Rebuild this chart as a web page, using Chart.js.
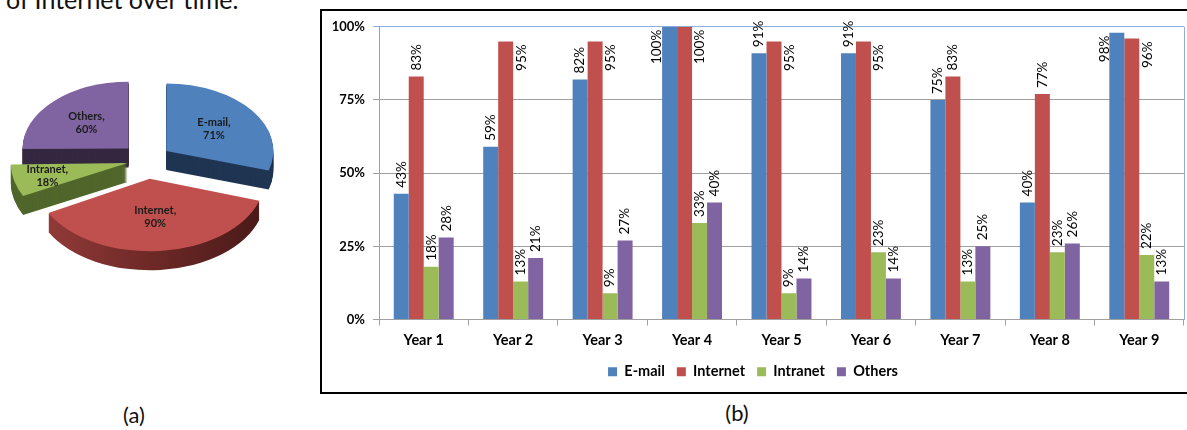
<!DOCTYPE html>
<html>
<head>
<meta charset="utf-8">
<script src="https://cdn.jsdelivr.net/npm/chart.js@4.4.1/dist/chart.umd.min.js"></script>
<style>
  html, body { margin: 0; padding: 0; background: #fff; }
  body { width: 1187px; height: 430px; position: relative; overflow: hidden; font-family: Lato, 'Open Sans', sans-serif; }
  .cut { position: absolute; left: 6px; top: -13px; font-size: 25px; line-height: 25px; color: #111; white-space: nowrap; }
  .cap { position: absolute; width: 60px; text-align: center; font-size: 22px; line-height: 22px; color: #111; }
  #pieBox { position: absolute; left: 0; top: 10px; width: 294px; height: 300px; }
  #barBox { position: absolute; left: 320px; top: 9px; width: 880px; height: 381px; border: 2px solid #000; }
  #barWrap { position: absolute; left: 0; top: 0; width: 865px; height: 381px; }
</style>
</head>
<body>
<div class="cut">of Internet over time.</div>
<div id="pieBox"><canvas id="pieChart"></canvas></div>
<div id="barBox"><div id="barWrap"><canvas id="barChart"></canvas></div></div>
<div class="cap" style="left:104px; top:404px;">(a)</div>
<div class="cap" style="left:707px; top:402px;">(b)</div>

<script>
// (a) overall share
const pieLabels = ['E-mail', 'Internet', 'Intranet', 'Others'];
const pieValues = [71, 90, 18, 60];

// (b) yearly share
const years = ['Year 1', 'Year 2', 'Year 3', 'Year 4', 'Year 5', 'Year 6', 'Year 7', 'Year 8', 'Year 9'];
const email = [43, 59, 82, 100, 91, 91, 75, 40, 98];
const internet = [83, 95, 95, 100, 95, 95, 83, 77, 96];
const intranet = [18, 13, 9, 33, 9, 23, 13, 23, 22];
const others = [28, 21, 27, 40, 14, 14, 25, 26, 13];
const yTicks = [0, 25, 50, 75, 100];

const COLORS = ['#4F81BD', '#C0504D', '#9BBB59', '#8064A2'];
const SIDES = ['#1F3552', null, '#50662B', '#35273F'];
const TILT = 0.63;
const DEPTH = 19;

Chart.defaults.font.family = 'Lato';
Chart.defaults.color = '#000';

// Draw an arc element with a different fill, same geometry as the library's own
function drawArcWith(arc, ctx, fill) {
    const fake = Object.create(arc);
    fake.options = Object.assign({}, arc.options, { backgroundColor: fill, borderWidth: 0 });
    arc.draw.call(fake, ctx);
}

function tiltAbout(ctx, cx, cy, dy) {
    ctx.translate(cx, cy + dy);
    ctx.scale(1, TILT);
    ctx.translate(-cx, -cy);
}

// Fake 3D: squash the pie and extrude each slice downwards
const pie3d = {
    id: 'pie3d',
    beforeDatasetsDraw(chart) {
        const ctx = chart.ctx;
        const arcs = chart.getDatasetMeta(0).data;
        const cx = arcs[0].x, cy = arcs[0].y;
        const grad = ctx.createLinearGradient(cx - 110, 0, cx + 110, 0);
        grad.addColorStop(0, '#933B39');
        grad.addColorStop(0.5, '#6E2927');
        grad.addColorStop(1, '#4A1A19');
        for (let d = DEPTH; d >= 1; d--) {
            arcs.forEach((arc, i) => {
                ctx.save();
                tiltAbout(ctx, cx, cy, d);
                drawArcWith(arc, ctx, SIDES[i] || grad);
                ctx.restore();
            });
        }
        ctx.save();
        tiltAbout(ctx, cx, cy, 0);
    },
    afterDatasetsDraw(chart) {
        const ctx = chart.ctx;
        ctx.restore();
        const arcs = chart.getDatasetMeta(0).data;
        ctx.save();
        ctx.font = 'bold 11px Lato';
        ctx.fillStyle = '#1a1a1a';
        ctx.textAlign = 'center';
        ctx.textBaseline = 'middle';
        arcs.forEach((arc, i) => {
            const mid = (arc.startAngle + arc.endAngle) / 2;
            const f = (arc.endAngle - arc.startAngle) < 0.6 ? 0.78 : 0.56;
            const r = (arc.options.offset || 0) / 4 + arc.outerRadius * f;
            const x = arc.x + Math.cos(mid) * r;
            const y = arc.y + Math.sin(mid) * r * TILT;
            ctx.fillText(pieLabels[i] + ',', x, y - 6);
            ctx.fillText(pieValues[i] + '%', x, y + 7);
        });
        ctx.restore();
    }
};

new Chart(document.getElementById('pieChart'), {
    type: 'pie',
    data: {
        labels: pieLabels,
        datasets: [{
            data: pieValues,
            backgroundColor: COLORS,
            borderWidth: 0,
            offset: [96, 120, 80, 104]
        }]
    },
    options: {
        responsive: true,
        maintainAspectRatio: false,
        animation: false,
        events: [],
        radius: 106,
        plugins: { legend: { display: false }, tooltip: { enabled: false } }
    },
    plugins: [pie3d]
});

// Value labels, rotated; bars near the top get them on the side
const barLabels = {
    id: 'barLabels',
    afterDatasetsDraw(chart) {
        const ctx = chart.ctx;
        ctx.save();
        ctx.font = '13.5px Lato';
        ctx.fillStyle = '#000';
        ctx.textBaseline = 'middle';
        ctx.textAlign = 'left';
        chart.data.datasets.forEach((ds, di) => {
            chart.getDatasetMeta(di).data.forEach((bar, i) => {
                const txt = ds.data[i] + '%';
                const w = ctx.measureText(txt).width;
                let x = bar.x, y0 = bar.y - 6;
                if (y0 - w < 5) {
                    x = di === 0 ? bar.x - bar.width / 2 - 5 : bar.x + bar.width / 2 + 8;
                    y0 = bar.y + 3 + w;
                }
                ctx.save();
                ctx.translate(x, y0);
                ctx.rotate(-Math.PI / 2);
                ctx.fillText(txt, 0, 0);
                ctx.restore();
            });
        });
        ctx.restore();
    },
    afterDraw(chart) {
        const { ctx, chartArea } = chart;
        ctx.save();
        ctx.strokeStyle = '#8DB0DC';
        ctx.lineWidth = 1;
        ctx.beginPath();
        ctx.moveTo(chartArea.right + 0.5, chartArea.top);
        ctx.lineTo(chartArea.right + 0.5, chartArea.bottom);
        ctx.stroke();
        ctx.restore();
    }
};

const seriesData = [email, internet, intranet, others];

new Chart(document.getElementById('barChart'), {
    type: 'bar',
    data: {
        labels: years,
        datasets: pieLabels.map((name, i) => ({
            label: name,
            data: seriesData[i],
            backgroundColor: COLORS[i],
            borderWidth: 0,
            categoryPercentage: 0.67,
            barPercentage: 1.0
        }))
    },
    options: {
        responsive: true,
        maintainAspectRatio: false,
        animation: false,
        events: [],
        layout: { padding: { left: 0, right: 3, top: 15, bottom: 3 } },
        scales: {
            x: {
                grid: { offset: true, drawOnChartArea: false, tickLength: 6, color: '#A0A0A0' },
                border: { color: '#A0A0A0' },
                ticks: { font: { size: 14.5, weight: 'bold' }, padding: 6, color: '#000' },
                afterFit(scale) { scale.height = 33; }
            },
            y: {
                min: 0,
                max: 100,
                afterBuildTicks(scale) { scale.ticks = yTicks.map(v => ({ value: v })); },
                grid: {
                    tickLength: 6,
                    color: ctx => ctx.tick && ctx.tick.value === 100 ? '#8DB0DC' : '#A0A0A0'
                },
                border: { color: '#A0A0A0' },
                ticks: {
                    font: { size: 13, weight: 'bold' },
                    padding: 8,
                    color: '#000',
                    callback: v => v + '%'
                },
                afterFit(scale) { scale.width = 57; }
            }
        },
        plugins: {
            legend: {
                position: 'bottom',
                labels: {
                    boxWidth: 9,
                    boxHeight: 9,
                    padding: 12,
                    font: { size: 14.5, weight: 'bold' },
                    color: '#000'
                }
            },
            tooltip: { enabled: false }
        }
    },
    plugins: [barLabels]
});
</script>
</body>
</html>
